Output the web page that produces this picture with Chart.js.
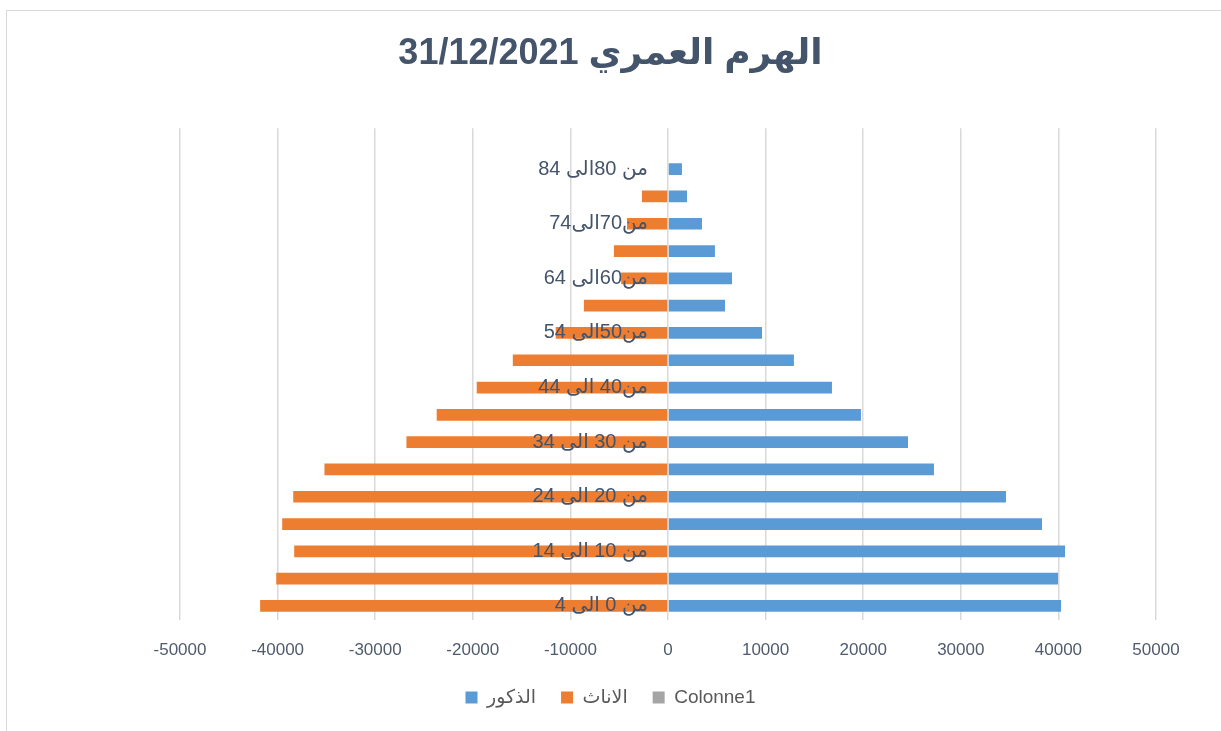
<!DOCTYPE html>
<html>
<head>
<meta charset="utf-8">
<script src="https://cdn.jsdelivr.net/npm/chart.js@4/dist/chart.umd.min.js"></script>
<style>
  body { margin: 0; background: #fff; }
  #frame { position: absolute; left: 6px; top: 10px; width: 1240px; height: 750px; border: 1px solid #d9d9d9; }
  #wrap { position: absolute; left: 0; top: 0; width: 1221px; height: 731px; }
</style>
</head>
<body>
<div id="frame"></div>
<div id="wrap"><canvas id="pyramid"></canvas></div>
<script>
// age groups, youngest first (drawn bottom-up); the last row is empty in the source
const ageGroups = [
    "من 0 الى 4", "من 5 الى 9", "من 10 الى 14", "من 15 الى 19", "من 20 الى 24",
    "من 25 الى 29", "من 30 الى 34", "من 35 الى 39", "من40 الى 44", "من45 الى 49",
    "من50الى 54", "من55الى 59", "من60الى 64", "من65الى 69", "من70الى74",
    "من75الى 79", "من 80الى 84", "85 فما فوق"
];

const males = [40270, 39960, 40680, 38320, 34630, 27250, 24590, 19770, 16800, 12900,
    9630, 5840, 6560, 4810, 3480, 1950, 1430, null];

const females = [-41790, -40140, -38300, -39530, -38400, -35200, -26800, -23700, -19600, -15900,
    -11500, -8620, -4800, -5540, -4200, -2670, 0, null];

const colonne1 = [];

const xTickValues = [-50000, -40000, -30000, -20000, -10000, 0, 10000, 20000, 30000, 40000, 50000];

const textColor = "#44546A";

// invisible side axes only used to reserve room left/right of the plot
function spacer(pos, w) {
    return {
        type: "linear",
        position: pos,
        display: true,
        grid: { display: false },
        border: { display: false },
        ticks: { display: false },
        afterFit: s => { s.width = w; }
    };
}

new Chart(document.getElementById("pyramid"), {
    type: "bar",
    data: {
        labels: ageGroups,
        datasets: [
            { label: "الذكور", data: males, backgroundColor: "#5B9BD5" },
            { label: "الاناث", data: females, backgroundColor: "#ED7D31" },
            { label: "Colonne1", data: colonne1, backgroundColor: "#A5A5A5" }
        ]
    },
    options: {
        indexAxis: "y",
        responsive: true,
        maintainAspectRatio: false,
        animation: false,
        categoryPercentage: 0.5,
        barPercentage: 0.86,
        layout: { padding: { left: 0, right: 0, top: 0, bottom: 14 } },
        scales: {
            x: {
                stacked: true,
                min: -50000,
                max: 50000,
                afterBuildTicks: scale => {
                    scale.ticks = xTickValues.map(v => ({ value: v }));
                },
                afterFit: s => { s.height -= 19; },
                grid: { color: "#d9d9d9", lineWidth: 1.5, drawTicks: false },
                border: { display: false },
                ticks: {
                    padding: 21,
                    color: "#4f5b6e",
                    font: { family: "'Liberation Sans Narrow', 'Liberation Sans'", size: 17 },
                    callback: v => String(v)
                }
            },
            y: {
                stacked: true,
                reverse: true,
                // labels sit just left of the zero line, over the bars
                position: { x: -2050 },
                grid: { display: false },
                border: { display: false },
                ticks: {
                    z: 1,
                    autoSkip: false,
                    color: textColor,
                    font: { family: "'Liberation Sans', 'DejaVu Sans'", size: 20 },
                    callback: function (v, i) {
                        return i % 2 === 0 ? this.getLabelForValue(v) : "";
                    }
                }
            },
            padLeft: spacer("left", 180),
            padRight: spacer("right", 65)
        },
        plugins: {
            title: {
                display: true,
                text: "الهرم العمري 31/12/2021",
                color: textColor,
                font: { family: "'Liberation Sans', 'DejaVu Sans'", size: 36, weight: "bold" },
                padding: { top: 32, bottom: 53 }
            },
            legend: {
                position: "bottom",
                labels: {
                    color: "#595959",
                    boxWidth: 12,
                    boxHeight: 12,
                    padding: 25,
                    font: { family: "'Liberation Sans', 'DejaVu Sans'", size: 19 }
                }
            },
            tooltip: { enabled: false }
        }
    }
});
</script>
</body>
</html>
